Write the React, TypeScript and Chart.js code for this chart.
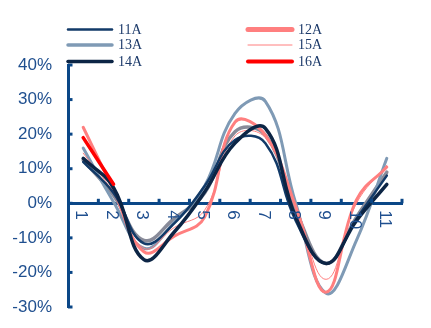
import React, { useEffect, useRef } from "react";
import { Chart, registerables } from "chart.js";

Chart.register(...registerables);

const categories = ["1", "2", "3", "4", "5", "6", "7", "8", "9", "10", "11"];
const yTickValues = [-30, -20, -10, 0, 10, 20, 30, 40];

const s11A = [12, 3, -11.6, -5.8, 5, 18.3, 17.4, -5, -17.4, -4.5, 8];
const s12A = [22, 3.8, -14, -9.5, -4, 23.5, 19.7, -1, -25.7, 1, 10.5];
const s13A = [16, 0.4, -13, -5.5, 5, 26, 29.5, 0, -26, -10.7, 13];
const s14A = [13, 4.5, -16.3, -8.3, 3.3, 17.4, 21.7, -4, -17.4, -5, 5.5];
const s15A = [14.5, 3, -13, -7, -2, 19.5, 19, -0.5, -22, 0, 11];
const s16A = [19, 5.5, null, null, null, null, null, null, null, null, null];
const sGray = [12.5, 2.3, -10.7, -4.4, 3, 20.7, 19.7, -2, -17.4, -4, 9];

const AXIS = "#0b4787";
const LABEL = "#1f4f8f";
const LEGEND_TEXT = "#1c3a6a";

const C11 = "#123a68";
const C12 = "#ff7f7f";
const C13 = "#7f9ab5";
const C14 = "#0c2545";
const C15 = "#ff7f7f";
const C16 = "#ff0000";
const CGRAY = "#898b99";

const legendItems = [
  { label: "11A", color: C11, width: 2.5, x: 67, y: 29.5 },
  { label: "13A", color: C13, width: 3.5, x: 67, y: 45 },
  { label: "14A", color: C14, width: 3.5, x: 67, y: 61.5 },
  { label: "12A", color: C12, width: 5, x: 247, y: 29.5 },
  { label: "15A", color: C15, width: 1, x: 247, y: 45 },
  { label: "16A", color: C16, width: 4, x: 247, y: 61.5 },
];

const overlayPlugin = {
  id: "overlay",
  afterDraw(chart: any) {
    const ctx = chart.ctx;
    const xs = chart.scales.x;
    const ys = chart.scales.y;
    const y0 = ys.getPixelForValue(0);
    const step = xs.getPixelForValue(1) - xs.getPixelForValue(0);
    ctx.save();
    ctx.strokeStyle = AXIS;
    ctx.lineWidth = 3;
    for (let i = 1; i <= categories.length; i++) {
      const bx = xs.getPixelForValue(i - 1) + step / 2;
      ctx.beginPath();
      ctx.moveTo(bx, y0);
      ctx.lineTo(bx, y0 - 4.5);
      ctx.stroke();
    }
    for (const v of yTickValues) {
      const py = ys.getPixelForValue(v);
      ctx.beginPath();
      ctx.moveTo(chart.chartArea.left, py);
      ctx.lineTo(chart.chartArea.left + 4.5, py);
      ctx.stroke();
    }
    ctx.fillStyle = LABEL;
    ctx.font = "17px 'Liberation Sans', Arial, sans-serif";
    ctx.textAlign = "left";
    ctx.textBaseline = "middle";
    categories.forEach((c, i) => {
      const px = xs.getPixelForValue(i) - 2;
      ctx.save();
      ctx.translate(px, y0 + 7);
      ctx.rotate(Math.PI / 2);
      ctx.fillText(c, 0, 0);
      ctx.restore();
    });
    ctx.lineCap = "round";
    ctx.font = "14px 'Liberation Serif', 'Times New Roman', serif";
    ctx.textBaseline = "middle";
    for (const it of legendItems) {
      ctx.strokeStyle = it.color;
      ctx.lineWidth = it.width;
      ctx.beginPath();
      ctx.moveTo(it.x + 1, it.y);
      ctx.lineTo(it.x + 45, it.y);
      ctx.stroke();
      ctx.fillStyle = LEGEND_TEXT;
      ctx.fillText(it.label, it.x + 51, it.y + 0.5);
    }
    ctx.restore();
  },
};

function ds(label: string, data: (number | null)[], color: string, width: number, order: number) {
  return {
    label,
    data,
    borderColor: color,
    backgroundColor: color,
    borderWidth: width,
    pointRadius: 0,
    tension: 0.42,
    fill: false,
    order,
    borderCapStyle: "round" as const,
  };
}

export default function App() {
  const ref = useRef<HTMLCanvasElement | null>(null);
  useEffect(() => {
    if (!ref.current) return;
    const chart = new Chart(ref.current, {
      type: "line",
      data: {
        labels: categories,
        datasets: [
          ds("16A", s16A, C16, 3.5, 0),
          ds("14A", s14A, C14, 3.5, 1),
          ds("11A", s11A, C11, 2.5, 2),
          ds("15A", s15A, C15, 1, 3),
          ds("12A", s12A, C12, 3, 4),
          ds("13A", s13A, C13, 3, 5),
          ds("", sGray, CGRAY, 3.5, 6),
        ],
      },
      options: {
        animation: false,
        responsive: false,
        maintainAspectRatio: false,
        layout: { padding: { top: 65, right: 29, bottom: 21, left: 0 } },
        plugins: { legend: { display: false }, tooltip: { enabled: false } },
        scales: {
          x: {
            type: "category",
            position: { y: 0 } as any,
            offset: true,
            grid: { display: false, drawTicks: false, offset: true },
            border: { display: true, color: AXIS, width: 3 },
            ticks: { display: false },
            afterFit: (s: any) => {
              s.height = 0;
              s.paddingTop = 0;
              s.paddingBottom = 0;
              s.paddingLeft = 0;
              s.paddingRight = 0;
            },
          },
          y: {
            type: "linear",
            position: "left",
            min: -30,
            max: 40,
            grid: { display: false, drawTicks: false },
            border: { display: true, color: AXIS, width: 3 },
            ticks: {
              stepSize: 10,
              padding: 16,
              color: LABEL,
              font: { family: "'Liberation Sans', Arial, sans-serif", size: 17 },
              callback: (v: any) => `${v}%`,
            },
            afterFit: (s: any) => {
              s.width = 68;
              s.paddingTop = 0;
              s.paddingBottom = 0;
            },
          },
        },
      },
      plugins: [overlayPlugin],
    });
    return () => chart.destroy();
  }, []);
  return (
    <div style={{ position: "fixed", left: 0, top: 0, width: 431, height: 328, background: "#fff" }}>
      <canvas ref={ref} width={431} height={328} style={{ display: "block" }} />
    </div>
  );
}
